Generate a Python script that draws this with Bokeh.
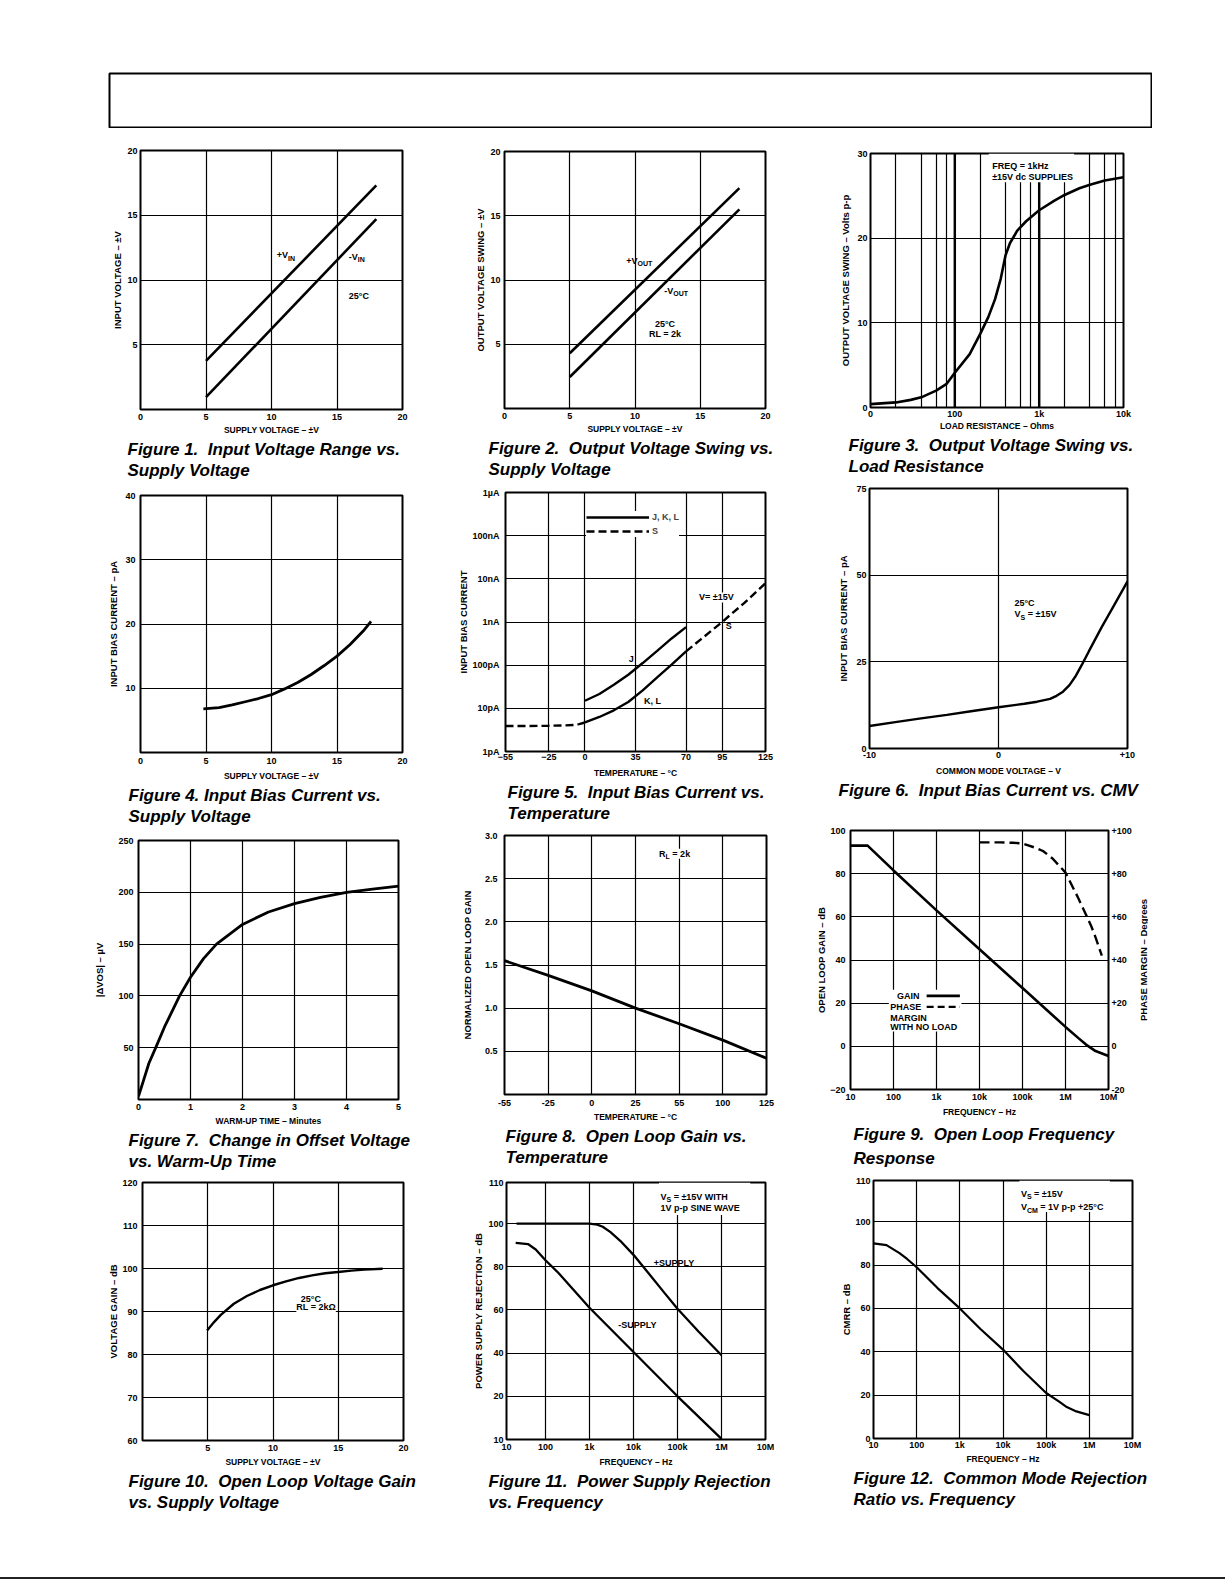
import math
from bokeh.plotting import figure
from bokeh.models import (Range1d, FixedTicker, Title, Label, Legend, LegendItem,
                          LinearAxis, Spacer, PrintfTickFormatter)
from bokeh.layouts import row, column
from bokeh.embed import file_html
from bokeh.resources import INLINE

FONT = "Liberation Sans"

# ------------------------------------------------------------------ data
# Figure 1 – input voltage range vs supply voltage
f1_supply = [5, 18]
f1_vin_pos = [3.75, 17.3]
f1_vin_neg = [0.95, 14.7]
f1_xticks = [0, 5, 10, 15, 20]
f1_yticks = [5, 10, 15, 20]

# Figure 2 – output voltage swing vs supply voltage
f2_supply = [5, 18]
f2_vout_pos = [4.3, 17.15]
f2_vout_neg = [2.45, 15.5]

# Figure 3 – output voltage swing vs load resistance
f3_load = [10, 20, 30, 40, 60, 80, 100, 150, 200, 250, 300, 350, 400, 450, 550,
           700, 1000, 1500, 2000, 3000, 4000, 6000, 10000]
f3_swing = [0.4, 0.6, 0.9, 1.2, 2.0, 2.8, 4.1, 6.3, 8.7, 10.7, 12.8, 15.2, 18.0, 19.4,
            20.9, 22.0, 23.3, 24.4, 25.1, 25.9, 26.3, 26.8, 27.2]
f3_xticks = [10, 100, 1000, 10000]
f3_xlabels = ["0", "100", "1k", "10k"]
f3_xgrid = [20, 40, 60, 80, 100, 200, 400, 600, 800, 1000, 2000, 4000, 6000, 8000]
f3_heavy = [100, 1000]

# Figure 4 – input bias current vs supply voltage
f4_supply = [4.8, 6, 7, 8, 9, 10, 11, 12, 13, 14, 15, 16, 17, 17.6]
f4_ib = [6.8, 7.0, 7.4, 7.9, 8.4, 9.0, 9.9, 10.9, 12.1, 13.5, 15.0, 16.8, 18.9, 20.4]

# Figure 5 – input bias current (pA) vs temperature
f5_j_t = [0, 10, 20, 30, 40, 50, 60, 70]
f5_j_i = [15, 21.5, 35, 60, 112, 215, 416, 760]
f5_kl_t = [0, 10, 20, 30, 40, 50, 60, 70]
f5_kl_i = [4.7, 6.3, 9.0, 14.0, 26, 52, 103, 209]
f5_s_low_t = [-55, -40, -25, -15, -8, -4, 0]
f5_s_low_i = [3.9, 3.9, 3.95, 4.0, 4.1, 4.3, 4.7]
f5_s_high_t = [70, 80, 90, 95, 100, 110, 125]
f5_s_high_i = [209, 390, 730, 1000, 1400, 2700, 7900]
f5_xticks = [-55, -25, 0, 35, 70, 95, 125]
f5_yticks = [1, 10, 100, 1000, 10000, 100000, 1000000]
f5_ylabels = ["1pA", "10pA", "100pA", "1nA", "10nA", "100nA", "1\u00b5A"]

# Figure 6 – input bias current vs common-mode voltage
f6_cmv = [-10, -8, -6, -4, -2, 0, 2, 3, 4, 4.5, 5, 5.5, 6, 6.5, 7, 8, 9, 10]
f6_ib = [6.5, 7.6, 8.7, 9.7, 10.8, 11.9, 12.9, 13.5, 14.3, 15.2, 16.4, 18.3, 21.0,
         24.4, 28.0, 35.0, 41.6, 48.2]
f6_xticks = [-10, 0, 10]
f6_xlabels = ["-10", "0", "+10"]

# Figure 7 – change in offset voltage vs warm-up time
f7_t = [0, 0.1, 0.2, 0.34, 0.5, 0.79, 1.0, 1.25, 1.5, 2.0, 2.5, 3.0, 3.5, 4.0, 4.5, 5.0]
f7_dv = [3, 19, 35, 51, 70, 100, 118, 136, 150, 169, 181, 189, 195, 200, 203, 206]

# Figure 8 – normalized open loop gain vs temperature (evenly spaced ticks)
f8_temp_labels = ["-55", "-25", "0", "25", "55", "100", "125"]
f8_gain = [1.55, 1.38, 1.20, 1.00, 0.82, 0.63, 0.42]

# Figure 9 – open loop frequency response
f9_f = [10, 25, 100, 1000, 10000, 100000, 1000000, 2000000, 3000000, 5000000, 10000000]
f9_gain = [93, 93, 81.5, 63, 45, 27, 9, 3.8, 0.8, -2.2, -4.5]
f9_pf = [10000, 30000, 60000, 100000, 200000, 300000, 500000, 1000000, 2000000,
         3000000, 4000000, 5000000, 7000000]
f9_phase = [94.5, 94.5, 94.3, 94, 92, 90.5, 87, 80.5, 68.5, 61, 55.5, 50.5, 42]
freq_ticks = [10, 100, 1000, 10000, 100000, 1000000, 10000000]
freq_labels = ["10", "100", "1k", "10k", "100k", "1M", "10M"]
f9_yticks = [-20, 0, 20, 40, 60, 80, 100]
f9_rlabels = ["-20", "0", "+20", "+40", "+60", "+80", "+100"]

# Figure 10 – open loop voltage gain vs supply voltage
f10_supply = [4.95, 5.5, 6, 7, 8, 9, 10, 11, 12, 13, 14, 15, 16, 17, 18.4]
f10_gain = [85.6, 87.6, 89.2, 91.8, 93.6, 95.0, 96.1, 97.0, 97.8, 98.4, 98.9, 99.2,
            99.5, 99.75, 99.95]

# Figure 11 – power supply rejection vs frequency
f11_pos_f = [22, 100, 1000, 1500, 2000, 3000, 5000, 10000, 20000, 50000, 100000,
             300000, 1000000]
f11_pos = [100, 100, 100, 99.5, 98.5, 96, 92, 85.5, 78, 68, 60.5, 50, 39]
f11_neg_f = [21, 40, 60, 100, 200, 1000, 10000, 100000, 1000000]
f11_neg = [91, 90.5, 88, 83, 77, 61, 40.5, 20, 0.3]
f11_xticks = [13, 100, 1000, 10000, 100000, 1000000, 10000000]
f11_yticks = [0, 20, 40, 60, 80, 100, 119]
f11_ylabels = ["10", "20", "40", "60", "80", "100", "110"]

# Figure 12 – CMRR vs frequency
f12_f = [10, 20, 40, 60, 100, 300, 1000, 3000, 10000, 30000, 100000, 200000, 300000,
         500000, 1000000]
f12_cmrr = [90, 89.2, 85.5, 82.8, 79, 69.5, 60, 50.5, 41, 31, 21, 17, 14.5, 12.5, 10.8]
f12_yticks = [0, 20, 40, 60, 80, 100, 119]
f12_ylabels = ["0", "20", "40", "60", "80", "100", "110"]

# ------------------------------------------------------------------ layout
# rows: (top, bottom, top border shared by the row)
ROWS = [(142, 483, 8), (483, 826, 5), (826, 1174, 4), (1174, 1535, 6)]
FRAMES = {1: (140, 150, 262, 259), 2: (504, 151, 261, 257), 3: (870, 153, 253, 254),
          4: (140, 495, 262, 258), 5: (505, 492, 260, 259), 6: (869, 488, 258, 260),
          7: (138, 840, 260, 259), 8: (504, 835, 262, 259), 9: (850, 830, 260, 259),
          10: (142, 1182, 261, 258), 11: (506, 1182, 259, 257), 12: (873, 1180, 259, 258)}
BL = 55

WB = {' ': 278, '\u00a0': 278, '+': 584, '-': 333, '=': 584, '\u00b1': 584, '\u00b0': 400,
      '.': 278, ',': 278, '\u03a9': 768, 'A': 722, 'B': 722, 'C': 722, 'D': 722, 'E': 667,
      'F': 611, 'G': 778, 'H': 722, 'I': 278, 'J': 556, 'K': 722, 'L': 611, 'M': 833,
      'N': 722, 'O': 778, 'P': 667, 'Q': 778, 'R': 722, 'S': 667, 'T': 611, 'U': 722,
      'V': 667, 'W': 944, 'Y': 667, 'a': 556, 'c': 556, 'd': 611, 'e': 556, 'h': 611,
      'k': 556, 'p': 611, 's': 556, 'z': 500}


def tw(s, size):
    return sum(WB.get(c, 556) for c in s) * size / 1000.0


def panel(k, ri, xr, yr, x_type="linear", y_type="linear", br=30):
    L, T, W, H = FRAMES[k]
    rt, rb, mt = ROWS[ri]
    mbb = rb - (T + H)
    p = figure(width=BL + W + br, height=mt + H + mbb, x_range=Range1d(*xr),
               y_range=Range1d(*yr), x_axis_type=x_type, y_axis_type=y_type,
               toolbar_location=None, output_backend="svg", min_border_left=BL,
               min_border_right=br, min_border_top=mt, min_border_bottom=mbb)
    p.outline_line_color = "black"
    p.outline_line_width = 2
    p.outline_line_alpha = 1
    p.background_fill_color = "white"
    p.border_fill_color = "white"
    p.grid.grid_line_color = "black"
    p.grid.grid_line_width = 1.2
    p.grid.grid_line_alpha = 1
    p.title.visible = False
    return p


def style_axes(p, xlabel, ylabel, xs=(4, 3), ys=(3, 6)):
    for ax in p.axis:
        ax.axis_line_color = None
        ax.major_tick_line_color = None
        ax.minor_tick_line_color = None
        ax.major_tick_out = 0
        ax.major_tick_in = 0
        ax.minor_tick_out = 0
        ax.minor_tick_in = 0
        ax.major_label_text_font = FONT
        ax.major_label_text_font_style = "bold"
        ax.major_label_text_font_size = "9px"
        ax.major_label_text_color = "black"
        ax.axis_label_text_font = FONT
        ax.axis_label_text_font_style = "bold"
        ax.axis_label_text_font_size = "8.5px"
        ax.axis_label_text_color = "black"
    p.yaxis[0].axis_label_text_font_size = "9.5px"
    if xlabel is not None:
        p.xaxis[0].axis_label = xlabel
        p.xaxis[0].major_label_standoff = xs[0]
        p.xaxis[0].axis_label_standoff = xs[1]
    p.yaxis[0].axis_label = ylabel
    p.yaxis[0].major_label_standoff = ys[0]
    p.yaxis[0].axis_label_standoff = ys[1]


def ticks(ax, values, labels=None, fmt=None):
    ax.ticker = FixedTicker(ticks=list(values))
    if labels is not None:
        ax.major_label_overrides = {v: l for v, l in zip(values, labels)}
    if fmt is not None:
        ax.formatter = fmt


def grid(p, xs, ys):
    p.xgrid.ticker = FixedTicker(ticks=list(xs))
    p.ygrid.ticker = FixedTicker(ticks=list(ys))


def caption(p, k, lines, first_gap=0):
    L = FRAMES[k][0]
    for i, (x_cap, txt) in enumerate(lines):
        t = Title(text=txt, align="left", offset=x_cap - L,
                  standoff=(first_gap if i == 0 else 1), text_font=FONT,
                  text_font_style="bold italic", text_font_size="17px",
                  text_color="black")
        p.add_layout(t, "below")


def text(p, x, y, s, size=9, align="left", bg=None, xo=0, yo=0):
    lab = Label(x=x, y=y, text=s, x_offset=xo, y_offset=yo, text_font=FONT,
                text_font_style="bold", text_font_size=f"{size}px", text_align=align,
                text_baseline="middle", text_color="black")
    if bg:
        lab.background_fill_color = bg
        lab.background_fill_alpha = 1
    p.add_layout(lab)


def sub_text(p, x, y, main, sub, tail="", size=9, align="left", bg=None):
    ss = size * 0.78
    wm, wsb, wt = tw(main, size), tw(sub, ss), tw(tail, size)
    x0 = 0 if align == "left" else -(wm + wsb + wt) / 2.0
    text(p, x, y, main, size, "left", bg, x0, 0)
    text(p, x, y, sub, round(ss, 1), "left", bg, x0 + wm, -3)
    if tail:
        text(p, x, y, tail, size, "left", bg, x0 + wm + wsb, 0)


def mask(p, x0, x1, y0, y1):
    # white patch that hides grid lines behind a printed annotation block
    p.quad(left=[x0], right=[x1], bottom=[y0], top=[y1], fill_color="white",
           fill_alpha=1, line_color=None)


LW = 2.6
NB = "\u00a0"

# ---------------- Figure 1
p1 = panel(1, 0, (0, 20), (0, 20))
style_axes(p1, "SUPPLY VOLTAGE \u2013 \u00b1V", "INPUT VOLTAGE \u2013 \u00b1V",
           xs=(4, 2), ys=(3, 1))
ticks(p1.xaxis[0], f1_xticks)
ticks(p1.yaxis[0], f1_yticks)
grid(p1, [5, 10, 15], [5, 10, 15])
p1.line(f1_supply, f1_vin_pos, line_color="black", line_width=LW)
p1.line(f1_supply, f1_vin_neg, line_color="black", line_width=LW)
sub_text(p1, 10.4, 11.9, "+V", "IN")
sub_text(p1, 15.9, 11.8, "-V", "IN")
text(p1, 15.9, 8.8, "25\u00b0C")
caption(p1, 1, [(127, "Figure 1.\u00a0 Input Voltage Range vs."), (127, "Supply Voltage")])

# ---------------- Figure 2
p2 = panel(2, 0, (0, 20), (0, 20))
style_axes(p2, "SUPPLY VOLTAGE \u2013 \u00b1V", "OUTPUT VOLTAGE SWING \u2013 \u00b1V",
           xs=(4, 2), ys=(4, 1))
ticks(p2.xaxis[0], f1_xticks)
ticks(p2.yaxis[0], f1_yticks)
grid(p2, [5, 10, 15], [5, 10, 15])
p2.line(f2_supply, f2_vout_pos, line_color="black", line_width=LW)
p2.line(f2_supply, f2_vout_neg, line_color="black", line_width=LW)
sub_text(p2, 9.33, 11.5, "+V", "OUT")
sub_text(p2, 12.25, 9.16, "-V", "OUT")
text(p2, 12.3, 6.56, "25\u00b0C", align="center")
text(p2, 12.3, 5.78, "RL = 2k", align="center")
caption(p2, 2, [(488, "Figure 2.\u00a0 Output Voltage Swing vs."), (488, "Supply Voltage")])

# ---------------- Figure 3
p3 = panel(3, 0, (10, 10000), (0, 30), x_type="log")
style_axes(p3, "LOAD RESISTANCE \u2013 Ohms", "OUTPUT VOLTAGE SWING \u2013 Volts p-p",
           xs=(1, -1), ys=(3, 3))
ticks(p3.xaxis[0], f3_xticks, f3_xlabels)
ticks(p3.yaxis[0], [0, 10, 20, 30])
grid(p3, f3_xgrid, [10, 20])
p3.segment(x0=f3_heavy, y0=[0, 0], x1=f3_heavy, y1=[30, 30], line_color="black",
           line_width=2.4)
mask(p3, 253, 2600, 26.6, 30)
p3.line(f3_load, f3_swing, line_color="black", line_width=LW)
text(p3, 277, 28.5, "FREQ = 1kHz")
text(p3, 277, 27.2, "\u00b115V dc SUPPLIES")
caption(p3, 3, [(848, "Figure 3.\u00a0 Output Voltage Swing vs."), (848, "Load Resistance")])

# ---------------- Figure 4
p4 = panel(4, 1, (0, 20), (0, 40))
style_axes(p4, "SUPPLY VOLTAGE \u2013 \u00b1V", "INPUT BIAS CURRENT \u2013 pA",
           xs=(5, 4), ys=(5, 3))
ticks(p4.xaxis[0], f1_xticks)
ticks(p4.yaxis[0], [10, 20, 30, 40])
grid(p4, [5, 10, 15], [10, 20, 30])
p4.line(f4_supply, f4_ib, line_color="black", line_width=2.8)
caption(p4, 4, [(128, "Figure 4. Input Bias Current vs."), (128, "Supply Voltage")])

# ---------------- Figure 5
p5 = panel(5, 1, (-55, 125), (1, 1000000), y_type="log")
style_axes(p5, "TEMPERATURE \u2013 \u00b0C", "INPUT BIAS CURRENT", xs=(2, 5), ys=(6, 0))
ticks(p5.xaxis[0], f5_xticks)
ticks(p5.yaxis[0], f5_yticks, f5_ylabels)
grid(p5, [-25, 0, 35, 70, 95], [10, 100, 1000, 10000, 100000])
rj = p5.line(f5_j_t, f5_j_i, line_color="black", line_width=2.4)
p5.line(f5_kl_t, f5_kl_i, line_color="black", line_width=2.4)
rs = p5.line(f5_s_low_t, f5_s_low_i, line_color="black", line_width=2.4, line_dash="8 4")
p5.line(f5_s_high_t, f5_s_high_i, line_color="black", line_width=2.4, line_dash="8 4")
leg = Legend(items=[LegendItem(label="J, K, L", renderers=[rj]),
                    LegendItem(label="S", renderers=[rs])],
             location=(81, 214), glyph_width=63, glyph_height=12, label_height=12,
             label_standoff=3, spacing=2, padding=2, margin=0, border_line_color=None,
             background_fill_color="white", background_fill_alpha=1,
             label_text_font=FONT, label_text_font_style="bold", label_text_font_size="9px")
p5.add_layout(leg)
text(p5, 32, 140, "J", align="center")
text(p5, 40.8, 14.8, "K, L")
text(p5, 79, 3700, "V= \u00b115V", bg="white")
text(p5, 97.5, 800, "S")
caption(p5, 5, [(507, "Figure 5.\u00a0 Input Bias Current vs."), (507, "Temperature")])

# ---------------- Figure 6
p6 = panel(6, 1, (-10, 10), (0, 75))
style_axes(p6, "COMMON MODE VOLTAGE \u2013 V", "INPUT BIAS CURRENT \u2013 pA",
           xs=(3, 5), ys=(3, 4))
ticks(p6.xaxis[0], f6_xticks, f6_xlabels)
ticks(p6.yaxis[0], [0, 25, 50, 75])
grid(p6, [0], [25, 50])
p6.line(f6_cmv, f6_ib, line_color="black", line_width=2.4)
text(p6, 1.24, 42.1, "25\u00b0C")
sub_text(p6, 1.24, 38.7, "V", "S", NB + "= \u00b115V")
caption(p6, 6, [(838, "Figure 6.\u00a0 Input Bias Current vs. CMV")])

# ---------------- Figure 7
p7 = panel(7, 2, (0, 5), (0, 250))
style_axes(p7, "WARM-UP TIME \u2013 Minutes", "|\u0394VOS| \u2013 \u00b5V", ys=(5, 10))
ticks(p7.xaxis[0], [0, 1, 2, 3, 4, 5])
ticks(p7.yaxis[0], [50, 100, 150, 200, 250])
grid(p7, [1, 2, 3, 4], [50, 100, 150, 200])
p7.line(f7_t, f7_dv, line_color="black", line_width=2.8)
caption(p7, 7, [(128, "Figure 7.\u00a0 Change in Offset Voltage"), (128, "vs. Warm-Up Time")])

# ---------------- Figure 8
f8_idx = list(range(len(f8_temp_labels)))
p8 = panel(8, 2, (0, len(f8_temp_labels) - 1), (0, 3.0), br=28)
style_axes(p8, "TEMPERATURE \u2013 \u00b0C", "NORMALIZED OPEN LOOP GAIN", xs=(5, 3), ys=(7, 9))
ticks(p8.xaxis[0], f8_idx, f8_temp_labels)
ticks(p8.yaxis[0], [0.5, 1.0, 1.5, 2.0, 2.5, 3.0], fmt=PrintfTickFormatter(format="%.1f"))
grid(p8, f8_idx[1:-1], [0.5, 1.0, 1.5, 2.0, 2.5])
p8.line(f8_idx, f8_gain, line_color="black", line_width=2.8)
sub_text(p8, 3.54, 2.79, "R", "L", NB + "= 2k", bg="white")
caption(p8, 8, [(505, "Figure 8.\u00a0 Open Loop Gain vs."), (505, "Temperature")])

# ---------------- Figure 9
P9_BR = 24
p9 = panel(9, 2, (10, 10000000), (-20, 100), x_type="log", br=P9_BR)
p9.extra_y_ranges = {"phase": Range1d(-20, 100)}
rax = LinearAxis(y_range_name="phase")
p9.add_layout(rax, "right")
style_axes(p9, "FREQUENCY \u2013 Hz", "OPEN LOOP GAIN \u2013 dB", xs=(2, 2), ys=(5, 0))
rax.major_label_standoff = 3
ticks(p9.xaxis[0], freq_ticks, freq_labels)
ticks(p9.yaxis[0], f9_yticks)
ticks(rax, f9_yticks, f9_rlabels)
grid(p9, freq_ticks[1:-1], [0, 20, 40, 60, 80])
p9.line(f9_f, f9_gain, line_color="black", line_width=2.6)
p9.line(f9_pf, f9_phase, line_color="black", line_width=2.4, line_dash="10 5",
        y_range_name="phase")
mask(p9, 78, 3800, 6.9, 26.2)
f9_key_x = [590, 3500]
p9.line(f9_key_x, [23.4, 23.4], line_color="black", line_width=2.6)
p9.line(f9_key_x, [18.3, 18.3], line_color="black", line_width=2.4, line_dash="7 4")
text(p9, 120, 23.4, "GAIN")
text(p9, 84, 18.3, "PHASE")
text(p9, 84, 13.3, "MARGIN")
text(p9, 84, 9.0, "WITH NO LOAD")
caption(p9, 9, [(853, "Figure 9.\u00a0 Open Loop Frequency"), (853, "Response")], first_gap=6)

# title of the phase-margin scale: a slim companion plot whose own axis title
# reads bottom-to-top like the printed sheet, sharing the phase range
_, T9, W9, H9 = FRAMES[9]
rt9, rb9, mt9 = ROWS[2]
p9r = figure(width=14, height=p9.height, x_range=Range1d(0, 1), y_range=p9.extra_y_ranges["phase"],
             x_axis_type=None, toolbar_location=None, output_backend="svg",
             min_border_left=12, min_border_right=0, min_border_top=mt9,
             min_border_bottom=rb9 - (T9 + H9))
p9r.outline_line_color = None
p9r.background_fill_color = "white"
p9r.border_fill_color = "white"
p9r.grid.visible = False
p9r.title.visible = False
ax9r = p9r.yaxis[0]
ax9r.ticker = FixedTicker(ticks=[])
ax9r.axis_line_color = None
ax9r.major_tick_line_color = None
ax9r.minor_tick_line_color = None
ax9r.major_tick_out = 0
ax9r.minor_tick_out = 0
ax9r.major_label_standoff = 0
ax9r.axis_label_standoff = 0
ax9r.axis_label = "PHASE MARGIN \u2013 Degrees"
ax9r.axis_label_text_font = FONT
ax9r.axis_label_text_font_style = "bold"
ax9r.axis_label_text_font_size = "9.5px"
ax9r.axis_label_text_color = "black"

# ---------------- Figure 10
p10 = panel(10, 3, (0, 20), (60, 120))
style_axes(p10, "SUPPLY VOLTAGE \u2013 \u00b1V", "VOLTAGE GAIN \u2013 dB", ys=(5, 0))
ticks(p10.xaxis[0], [5, 10, 15, 20])
ticks(p10.yaxis[0], [60, 70, 80, 90, 100, 110, 120])
grid(p10, [5, 10, 15], [70, 80, 90, 100, 110])
p10.line(f10_supply, f10_gain, line_color="black", line_width=2.4)
text(p10, 12.9, 93.0, "25\u00b0C", align="center", bg="white")
text(p10, 13.3, 91.0, "RL = 2k\u03a9", align="center", bg="white")
caption(p10, 10, [(128, "Figure 10.\u00a0 Open Loop Voltage Gain"), (128, "vs. Supply Voltage")])

# ---------------- Figure 11
p11 = panel(11, 3, (13, 10000000), (0, 119), x_type="log")
style_axes(p11, "FREQUENCY \u2013 Hz", "POWER SUPPLY REJECTION \u2013 dB", xs=(2, 2), ys=(3, 1))
ticks(p11.xaxis[0], f11_xticks, freq_labels)
ticks(p11.yaxis[0], f11_yticks, f11_ylabels)
grid(p11, freq_ticks[1:-1], [20, 40, 60, 80, 100])
p11.line(f11_pos_f, f11_pos, line_color="black", line_width=2.3)
p11.line(f11_neg_f, f11_neg, line_color="black", line_width=2.3)
mask(p11, 38000, 4.5e6, 104, 119)
sub_text(p11, 41000, 112.4, "V", "S", NB + "= \u00b115V WITH")
text(p11, 41000, 107.0, "1V p-p SINE WAVE")
text(p11, 29000, 81.9, "+SUPPLY")
text(p11, 4500, 53.2, "-SUPPLY")
caption(p11, 11, [(488, "Figure 11.\u00a0 Power Supply Rejection"), (488, "vs. Frequency")])

# ---------------- Figure 12
p12 = panel(12, 3, (10, 10000000), (0, 119), x_type="log")
style_axes(p12, "FREQUENCY \u2013 Hz", "CMRR \u2013 dB", xs=(1, 1), ys=(3, 0))
ticks(p12.xaxis[0], freq_ticks, freq_labels)
ticks(p12.yaxis[0], f12_yticks, f12_ylabels)
grid(p12, freq_ticks[1:-1], [20, 40, 60, 80, 100])
p12.line(f12_f, f12_cmrr, line_color="black", line_width=2.2)
mask(p12, 24000, 3.0e6, 104.5, 119)
sub_text(p12, 26000, 112.8, "V", "S", NB + "= \u00b115V")
sub_text(p12, 26000, 106.6, "V", "CM", NB + "= 1V p-p +25\u00b0C")
caption(p12, 12, [(853, "Figure 12.\u00a0 Common Mode Rejection"), (853, "Ratio vs. Frequency")])

# ---------------- header box and bottom rule of the sheet
hdr = figure(width=1044, height=56, x_range=(0, 1), y_range=(0, 1), x_axis_type=None,
             y_axis_type=None, toolbar_location=None, output_backend="svg", min_border=1)
hdr.outline_line_color = "black"
hdr.outline_line_width = 2
hdr.background_fill_color = "white"
hdr.border_fill_color = "white"
hdr.title.visible = False

rule = Spacer(width=1225, height=2, styles={"background-color": "#222222"})


def block(items, ri):
    rt, rb, mt = ROWS[ri]
    kids = []
    x_prev = 0
    for k, p, extra in items:
        L, T, W, H = FRAMES[k]
        left = L - BL
        kids.append(Spacer(width=left - x_prev, height=1))
        dy = T - rt - mt
        for q in [p] + ([extra] if extra is not None else []):
            if dy > 0:
                kids.append(column(Spacer(width=1, height=dy), q))
            else:
                kids.append(column(q))
        x_prev = left + p.width + (extra.width if extra is not None else 0)
    return row(kids)


layout = column(
    Spacer(width=1, height=72),
    row(Spacer(width=108, height=1), hdr),
    Spacer(width=1, height=ROWS[0][0] - 128),
    block([(1, p1, None), (2, p2, None), (3, p3, None)], 0),
    block([(4, p4, None), (5, p5, None), (6, p6, None)], 1),
    block([(7, p7, None), (8, p8, None), (9, p9, p9r)], 2),
    block([(10, p10, None), (11, p11, None), (12, p12, None)], 3),
    Spacer(width=1, height=1577 - ROWS[3][1]),
    rule,
)

open("out.html", "w").write(file_html(layout, INLINE))
